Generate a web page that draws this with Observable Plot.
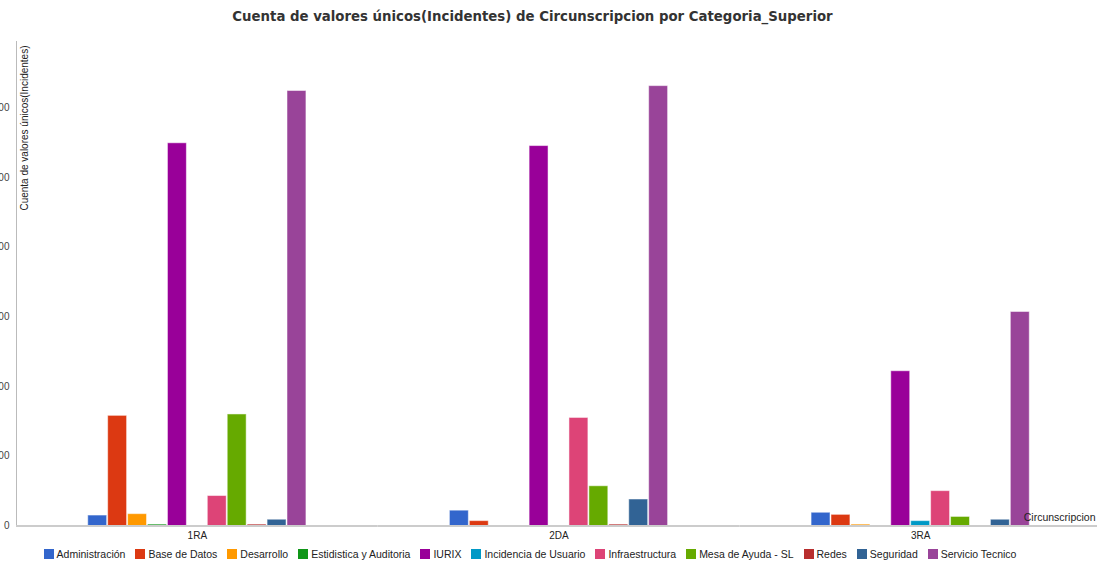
<!DOCTYPE html>
<html>
<head>
<meta charset="utf-8">
<script src="https://cdn.jsdelivr.net/npm/d3@7"></script>
<script src="https://cdn.jsdelivr.net/npm/@observablehq/plot@0.6"></script>
<style>
  html, body { margin: 0; padding: 0; background: #fff; }
  #wrap { width: 1097px; height: 563px; overflow: hidden; position: relative; }
  #title { position: absolute; left: 0; top: 9px; width: 1065px; text-align: center; line-height: 16px;
           font: bold 13.3px "DejaVu Sans", sans-serif; color: #333; white-space: nowrap; }
  #chart { position: absolute; left: 0; top: 33px; }
  #legend { position: absolute; left: 0; top: 546px; width: 1070px; height: 16px; display: flex; justify-content: center; }
  #legend .lg-swatches { min-height: 0; margin: 0; }
  #legend .lg-swatch { margin-right: 10px; }
  #legend .lg-swatch svg { margin-right: 3px; }
</style>
</head>
<body>
<div id="wrap">
  <div id="title">Cuenta de valores únicos(Incidentes) de Circunscripcion por Categoria_Superior</div>
  <div id="chart"></div>
  <div id="legend"></div>
</div>
<script>
const circs = ["1RA", "2DA", "3RA"];
const categorias = ["Administración", "Base de Datos", "Desarrollo", "Estidistica y Auditoria", "IURIX",
  "Incidencia de Usuario", "Infraestructura", "Mesa de Ayuda - SL", "Redes", "Seguridad", "Servicio Tecnico"];
const colores = ["#3366cc", "#dc3912", "#ff9900", "#109618", "#990099", "#0099c6", "#dd4477", "#66aa00",
  "#b82e2e", "#316395", "#994499"];
const valores1RA = [15, 158, 17, 2, 549, 0, 43, 160, 2, 9, 624];
const valores2DA = [22, 7, 0, 0, 545, 0, 155, 57, 2, 38, 631];
const valores3RA = [19, 16, 2, 0, 222, 7, 50, 13, 0, 9, 307];
const yTicks = [0, 100, 200, 300, 400, 500, 600];
const yLabel = "Cuenta de valores únicos(Incidentes)";
const xLabel = "Circunscripcion";

const series = [valores1RA, valores2DA, valores3RA];
const rows = [];
circs.forEach((c, i) => categorias.forEach((cat, j) => {
  if (series[i][j] > 0) rows.push({circ: c, cat, valor: series[i][j]});
}));

const chart = Plot.plot({
  width: 1097,
  height: 512,
  marginTop: 8,
  marginBottom: 19.5,
  marginLeft: 16,
  marginRight: -4,
  style: {fontFamily: "'Liberation Sans', Arial, sans-serif", fontSize: "10px", color: "#222", background: "white"},
  fx: {domain: circs, padding: 0, label: null, round: false},
  x: {domain: categorias, axis: null, paddingInner: 0.05, paddingOuter: 3.6, round: false},
  y: {domain: [0, 695]},
  color: {domain: categorias, range: colores},
  marks: [
    Plot.axisY({ticks: yTicks, tickSize: 0, tickPadding: 7, label: null, fill: "#444"}),
    Plot.axisFx({anchor: "bottom", tickSize: 0, tickPadding: 6, label: null, fill: "#222"}),
    Plot.frame({anchor: "left", facetAnchor: "left", stroke: "#bbb"}),
    Plot.barY(rows, {fx: "circ", x: "cat", y: "valor", fill: "cat", stroke: "white", strokeOpacity: 0.5, strokeWidth: 1}),
    Plot.ruleY([0], {stroke: "#ccc", strokeWidth: 2}),
    Plot.text([yLabel], {frameAnchor: "top-left", facetAnchor: "left", rotate: -90, textAnchor: "end",
      dx: 4, dy: 4, fontSize: 10, fill: "#222"}),
    Plot.text([xLabel], {frameAnchor: "bottom-right", facetAnchor: "right", textAnchor: "end",
      dx: -6, dy: -5, fontSize: 10.5, fill: "#222"})
  ]
});
document.getElementById("chart").appendChild(chart);

const leg = Plot.legend({
  color: {type: "ordinal", domain: categorias, range: colores},
  swatchSize: 10,
  className: "lg",
  style: {font: "10.5px 'Liberation Sans', Arial, sans-serif", color: "#222"}
});
document.getElementById("legend").appendChild(leg);
</script>
</body>
</html>
